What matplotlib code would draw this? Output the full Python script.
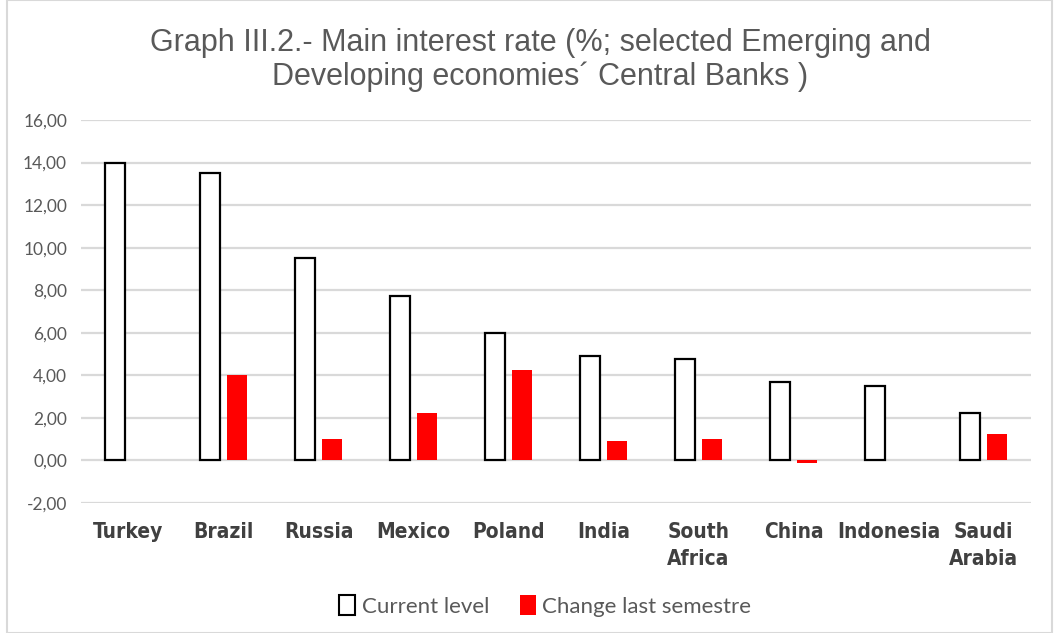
import numpy as np
import matplotlib.pyplot as plt
from matplotlib.patches import Rectangle, Patch

countries = ["Turkey", "Brazil", "Russia", "Mexico", "Poland", "India",
             "South\nAfrica", "China", "Indonesia", "Saudi\nArabia"]
current_level = [14.00, 13.50, 9.50, 7.75, 6.00, 4.90, 4.75, 3.70, 3.50, 2.25]
change_semester = [0.00, 4.00, 1.00, 2.25, 4.25, 0.90, 1.00, -0.10, 0.00, 1.25]
yticks = [-2, 0, 2, 4, 6, 8, 10, 12, 14, 16]

grey_text = "#595959"
grid_col = "#d9d9d9"

fig = plt.figure(figsize=(10.59, 6.33), dpi=100)
ax = fig.add_axes([81 / 1059, 1 - 503 / 633, 950 / 1059, 383 / 633])

x = np.arange(len(countries))
w = 0.22
off = 0.142
ax.bar(x - off, current_level, width=w, facecolor="white", edgecolor="black",
       linewidth=1.6, zorder=3)
ax.bar(x + off, change_semester, width=w, color="#ff0000", linewidth=0, zorder=3)

ax.set_xlim(-0.5, len(countries) - 0.5)
ax.set_ylim(-2, 16)
ax.set_yticks(yticks)
ax.set_yticklabels([f"{v:.2f}".replace(".", ",") for v in yticks],
                   fontsize=12.5, color=grey_text, family=["Lato", "DejaVu Sans"])
ax.yaxis.grid(True, color=grid_col, linewidth=1.6, zorder=0)
ax.set_axisbelow(True)
ax.tick_params(axis="y", length=0, pad=10)
ax.tick_params(axis="x", length=0, pad=14)
ax.set_xticks(x)
ax.set_xticklabels(countries, fontsize=15, fontweight="bold", color="#404040",
                   family=["DejaVu Sans"], fontstretch="condensed", linespacing=1.4,
                   va="top")
for s in ax.spines.values():
    s.set_visible(False)

fig.text(0.51, 0.905, "Graph III.2.- Main interest rate (%; selected Emerging and\n"
         "Developing economies\u00b4 Central Banks )", ha="center", va="center",
         fontsize=22, color=grey_text, family=["Liberation Sans", "DejaVu Sans"],
         linespacing=1.15)

handles = [Patch(facecolor="white", edgecolor="black", linewidth=1.5, label="Current level"),
           Patch(facecolor="#ff0000", label="Change last semestre")]
fig.legend(handles=handles, loc="center", bbox_to_anchor=(0.515, 1 - 606 / 633), ncol=2,
           frameon=False, handlelength=0.7, handleheight=1.0, handletextpad=0.3,
           columnspacing=1.4, prop={"family": ["Lato", "DejaVu Sans"], "size": 16},
           labelcolor=grey_text)

fig.patches.append(Rectangle((7 / 1059, 0), 1 - 14 / 1059, 1, transform=fig.transFigure,
                             fill=False, edgecolor=grid_col, linewidth=1.5))

fig.savefig("out.png", dpi=100)
